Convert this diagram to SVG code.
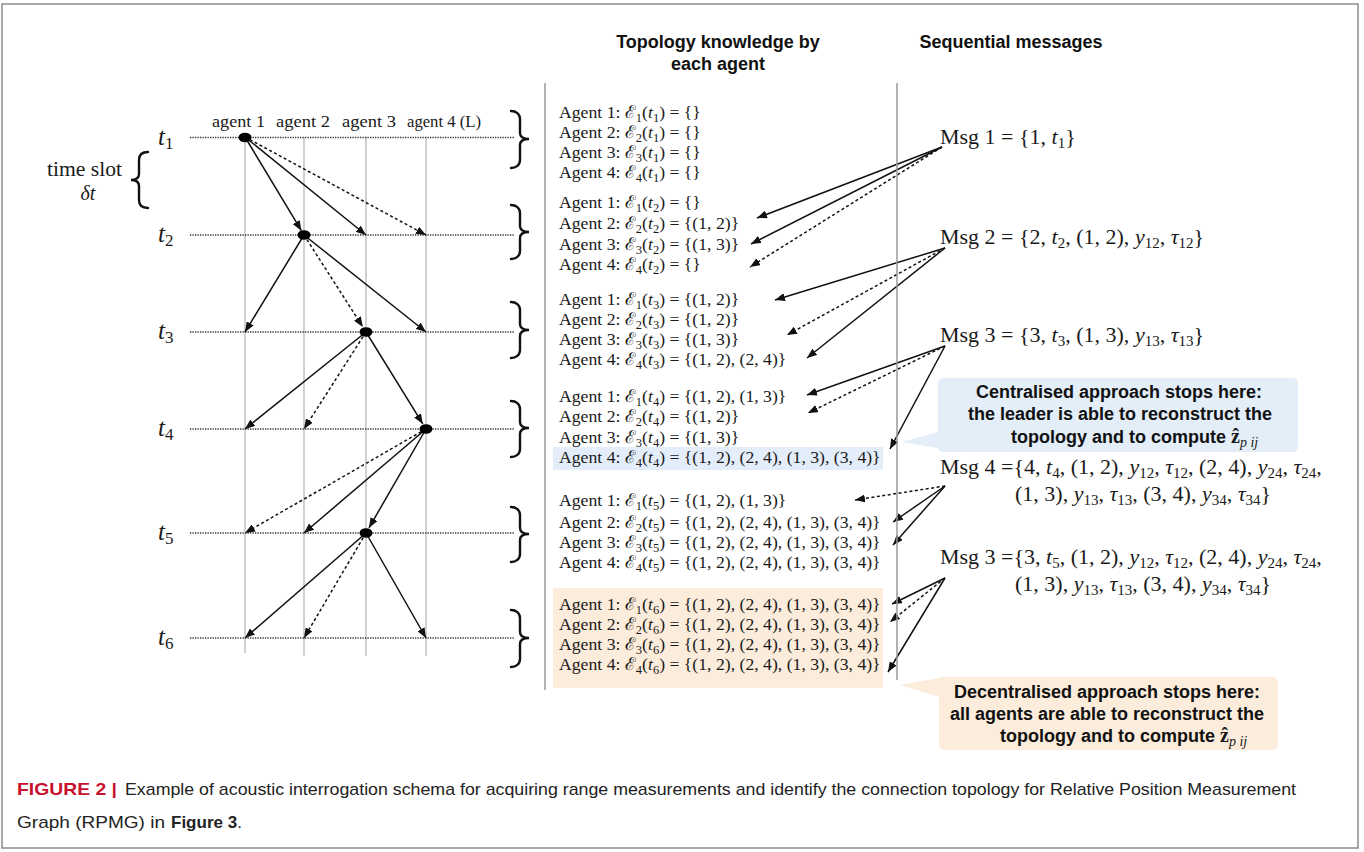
<svg xmlns="http://www.w3.org/2000/svg" width="1364" height="852" viewBox="0 0 1364 852">
<defs>
<marker id="ah" viewBox="0 0 10 8" refX="10" refY="4" markerWidth="10" markerHeight="8" markerUnits="userSpaceOnUse" orient="auto"><path d="M0,0 L10,4 L0,8 z" fill="#111"/></marker>
<style>
.frame{fill:none;stroke:#8a8a8a;stroke-width:1.5}
.vl{stroke:#b8b8b8;stroke-width:1.3}
.col{stroke:#999;stroke-width:1.5}
.hl{stroke:#333;stroke-width:1.3;stroke-dasharray:1.3 1.2}
.ar{stroke:#111;stroke-width:1.5;fill:none;marker-end:url(#ah)}
.dt{stroke-dasharray:3 2.5}
.br{fill:none;stroke:#111;stroke-width:2.4;stroke-linecap:round}
.nd{fill:#000}
.s{font-family:"Liberation Serif","DejaVu Serif",serif;fill:#1a1a1a}
.lbl{font-size:17px}
.ts{font-size:20px}
.tl{font-size:25px;font-style:italic}
.tls{font-size:17px;font-style:normal}
.a{font-size:17.7px}
.sb{font-size:12.5px}
.it{font-style:italic}
.m{font-size:22px}
.ms{font-size:15px}
.h{font-family:"Liberation Sans",Arial,sans-serif;font-weight:bold;font-size:18px;fill:#111}
.c{font-family:"Liberation Sans",Arial,sans-serif;font-weight:bold;font-size:18px;fill:#111}
.cap{font-family:"Liberation Sans",Arial,sans-serif;font-size:17px;fill:#222}
.fig{font-family:"Liberation Sans",Arial,sans-serif;font-size:17px;font-weight:bold;fill:#c8102e}
</style>
</defs>
<rect class="frame" x="2" y="4" width="1356" height="844"/>

<g id="timeline">
<line class="vl" x1="245" y1="137" x2="245" y2="653"/>
<line class="vl" x1="304" y1="137" x2="304" y2="656"/>
<line class="vl" x1="366" y1="137" x2="366" y2="656"/>
<line class="vl" x1="426" y1="137" x2="426" y2="656"/>
<line class="hl" x1="190" y1="137.5" x2="515" y2="137.5"/>
<line class="hl" x1="190" y1="235" x2="515" y2="235"/>
<line class="hl" x1="190" y1="332" x2="515" y2="332"/>
<line class="hl" x1="190" y1="429" x2="515" y2="429"/>
<line class="hl" x1="190" y1="533" x2="515" y2="533"/>
<line class="hl" x1="190" y1="638" x2="515" y2="638"/>
<text class="s lbl" x="212" y="127" textLength="53" lengthAdjust="spacingAndGlyphs">agent 1</text>
<text class="s lbl" x="276" y="127" textLength="54" lengthAdjust="spacingAndGlyphs">agent 2</text>
<text class="s lbl" x="342" y="127" textLength="54" lengthAdjust="spacingAndGlyphs">agent 3</text>
<text class="s lbl" x="407" y="127" textLength="74" lengthAdjust="spacingAndGlyphs">agent 4 (L)</text>
<text class="s tl" x="158" y="145">t<tspan class="tls" dy="4">1</tspan></text>
<text class="s tl" x="158" y="242">t<tspan class="tls" dy="4">2</tspan></text>
<text class="s tl" x="158" y="339">t<tspan class="tls" dy="4">3</tspan></text>
<text class="s tl" x="158" y="436">t<tspan class="tls" dy="4">4</tspan></text>
<text class="s tl" x="158" y="540">t<tspan class="tls" dy="4">5</tspan></text>
<text class="s tl" x="158" y="645">t<tspan class="tls" dy="4">6</tspan></text>
<text class="s ts" x="47" y="176" textLength="75" lengthAdjust="spacingAndGlyphs">time slot</text>
<text class="s ts it" x="88" y="200" text-anchor="middle">δt</text>
<path class="br" d="M148,152 C142,152 139,155 139,160 L139,174 C139,178 136,180 131,180 C136,180 139,182 139,186 L139,200 C139,205 142,208 148,208"/>
<path class="br" d="M511,111 C516,111 520,114 520,119 L520,133 C520,137 523,139 529,139 C523,139 520,141 520,145 L520,160 C520,165 516,168 511,168"/>
<path class="br" d="M511,205 C516,205 520,208 520,213 L520,226 C520,230 523,232 529,232 C523,232 520,234 520,238 L520,251 C520,256 516,259 511,259"/>
<path class="br" d="M511,302 C516,302 520,305 520,310 L520,324 C520,328 523,330 529,330 C523,330 520,332 520,336 L520,350 C520,355 516,358 511,358"/>
<path class="br" d="M511,401 C516,401 520,404 520,409 L520,422 C520,426 523,428 529,428 C523,428 520,430 520,434 L520,449 C520,454 516,457 511,457"/>
<path class="br" d="M511,507 C516,507 520,510 520,515 L520,528 C520,532 523,534 529,534 C523,534 520,536 520,540 L520,554 C520,559 516,562 511,562"/>
<path class="br" d="M511,610 C516,610 520,613 520,618 L520,632 C520,636 523,638 529,638 C523,638 520,640 520,644 L520,659 C520,664 516,667 511,667"/>
</g>

<g id="connectors">
<line class="ar" x1="245" y1="137" x2="301.4" y2="230.7"/>
<line class="ar" x1="245" y1="137" x2="366" y2="235"/>
<line class="ar dt" x1="245" y1="137" x2="426" y2="235"/>
<line class="ar" x1="304" y1="235" x2="245" y2="332"/>
<line class="ar dt" x1="304" y1="235" x2="362.8" y2="326.9"/>
<line class="ar" x1="304" y1="235" x2="426" y2="332"/>
<line class="ar" x1="366" y1="332" x2="245" y2="429"/>
<line class="ar dt" x1="366" y1="332" x2="304" y2="429"/>
<line class="ar" x1="366" y1="332" x2="422.8" y2="423.9"/>
<line class="ar dt" x1="426" y1="429" x2="245" y2="533"/>
<line class="ar" x1="426" y1="429" x2="304" y2="533"/>
<line class="ar" x1="426" y1="429" x2="369" y2="527.8"/>
<line class="ar" x1="366" y1="533" x2="245" y2="638"/>
<line class="ar dt" x1="366" y1="533" x2="304" y2="638"/>
<line class="ar" x1="366" y1="533" x2="426" y2="638"/>

<line class="ar" x1="942" y1="147" x2="757" y2="218"/>
<line class="ar" x1="942" y1="147" x2="751" y2="244"/>
<line class="ar dt" x1="942" y1="147" x2="750" y2="267"/>
<line class="ar" x1="945" y1="248" x2="775" y2="300"/>
<line class="ar dt" x1="945" y1="248" x2="787" y2="335"/>
<line class="ar" x1="945" y1="248" x2="807" y2="358"/>
<line class="ar" x1="945" y1="346" x2="807" y2="395"/>
<line class="ar dt" x1="945" y1="346" x2="808" y2="413"/>
<line class="ar" x1="945" y1="346" x2="890" y2="449"/>
<line class="ar dt" x1="945" y1="486" x2="855" y2="500"/>
<line class="ar" x1="945" y1="486" x2="893" y2="522"/>
<line class="ar" x1="945" y1="486" x2="893" y2="545"/>
<line class="ar" x1="945" y1="578" x2="892" y2="604"/>
<line class="ar dt" x1="945" y1="578" x2="890" y2="622"/>
<line class="ar" x1="945" y1="578" x2="888" y2="672"/>
</g>

<g id="nodes">
<ellipse id="n1" class="nd" cx="245" cy="137.5" rx="6.5" ry="4.8"/>
<ellipse id="n2" class="nd" cx="304" cy="235" rx="6.5" ry="4.8"/>
<ellipse id="n3" class="nd" cx="366" cy="332" rx="6.5" ry="4.8"/>
<ellipse id="n4" class="nd" cx="426" cy="429" rx="6.5" ry="4.8"/>
<ellipse id="n5" class="nd" cx="366" cy="533" rx="6.5" ry="4.8"/>
</g>

<g id="topology">
<text class="h" x="718" y="48" text-anchor="middle">Topology knowledge by</text>
<text class="h" x="718" y="70" text-anchor="middle">each agent</text>
<line class="col" x1="545" y1="83" x2="545" y2="690"/>
<rect x="553" y="447" width="330" height="23" fill="#e4eefa"/>
<rect x="553" y="588" width="330" height="100" fill="#fcecdb"/>
<g class="s a">
<text x="559" y="118">Agent 1: ℰ<tspan class="sb" dy="4">1</tspan><tspan dy="-4">(</tspan><tspan class="it">t</tspan><tspan class="sb" dy="4">1</tspan><tspan dy="-4">) = {}</tspan></text>
<text x="559" y="138">Agent 2: ℰ<tspan class="sb" dy="4">2</tspan><tspan dy="-4">(</tspan><tspan class="it">t</tspan><tspan class="sb" dy="4">1</tspan><tspan dy="-4">) = {}</tspan></text>
<text x="559" y="158">Agent 3: ℰ<tspan class="sb" dy="4">3</tspan><tspan dy="-4">(</tspan><tspan class="it">t</tspan><tspan class="sb" dy="4">1</tspan><tspan dy="-4">) = {}</tspan></text>
<text x="559" y="178">Agent 4: ℰ<tspan class="sb" dy="4">4</tspan><tspan dy="-4">(</tspan><tspan class="it">t</tspan><tspan class="sb" dy="4">1</tspan><tspan dy="-4">) = {}</tspan></text>

<text x="559" y="208">Agent 1: ℰ<tspan class="sb" dy="4">1</tspan><tspan dy="-4">(</tspan><tspan class="it">t</tspan><tspan class="sb" dy="4">2</tspan><tspan dy="-4">) = {}</tspan></text>
<text x="559" y="229">Agent 2: ℰ<tspan class="sb" dy="4">2</tspan><tspan dy="-4">(</tspan><tspan class="it">t</tspan><tspan class="sb" dy="4">2</tspan><tspan dy="-4">) = {(1, 2)}</tspan></text>
<text x="559" y="250">Agent 3: ℰ<tspan class="sb" dy="4">3</tspan><tspan dy="-4">(</tspan><tspan class="it">t</tspan><tspan class="sb" dy="4">2</tspan><tspan dy="-4">) = {(1, 3)}</tspan></text>
<text x="559" y="270">Agent 4: ℰ<tspan class="sb" dy="4">4</tspan><tspan dy="-4">(</tspan><tspan class="it">t</tspan><tspan class="sb" dy="4">2</tspan><tspan dy="-4">) = {}</tspan></text>

<text x="559" y="305">Agent 1: ℰ<tspan class="sb" dy="4">1</tspan><tspan dy="-4">(</tspan><tspan class="it">t</tspan><tspan class="sb" dy="4">3</tspan><tspan dy="-4">) = {(1, 2)}</tspan></text>
<text x="559" y="325">Agent 2: ℰ<tspan class="sb" dy="4">2</tspan><tspan dy="-4">(</tspan><tspan class="it">t</tspan><tspan class="sb" dy="4">3</tspan><tspan dy="-4">) = {(1, 2)}</tspan></text>
<text x="559" y="345">Agent 3: ℰ<tspan class="sb" dy="4">3</tspan><tspan dy="-4">(</tspan><tspan class="it">t</tspan><tspan class="sb" dy="4">3</tspan><tspan dy="-4">) = {(1, 3)}</tspan></text>
<text x="559" y="365">Agent 4: ℰ<tspan class="sb" dy="4">4</tspan><tspan dy="-4">(</tspan><tspan class="it">t</tspan><tspan class="sb" dy="4">3</tspan><tspan dy="-4">) = {(1, 2), (2, 4)}</tspan></text>

<text x="559" y="402">Agent 1: ℰ<tspan class="sb" dy="4">1</tspan><tspan dy="-4">(</tspan><tspan class="it">t</tspan><tspan class="sb" dy="4">4</tspan><tspan dy="-4">) = {(1, 2), (1, 3)}</tspan></text>
<text x="559" y="422">Agent 2: ℰ<tspan class="sb" dy="4">2</tspan><tspan dy="-4">(</tspan><tspan class="it">t</tspan><tspan class="sb" dy="4">4</tspan><tspan dy="-4">) = {(1, 2)}</tspan></text>
<text x="559" y="443">Agent 3: ℰ<tspan class="sb" dy="4">3</tspan><tspan dy="-4">(</tspan><tspan class="it">t</tspan><tspan class="sb" dy="4">4</tspan><tspan dy="-4">) = {(1, 3)}</tspan></text>
<text x="559" y="463">Agent 4: ℰ<tspan class="sb" dy="4">4</tspan><tspan dy="-4">(</tspan><tspan class="it">t</tspan><tspan class="sb" dy="4">4</tspan><tspan dy="-4">) = {(1, 2), (2, 4), (1, 3), (3, 4)}</tspan></text>

<text x="559" y="506">Agent 1:  ℰ<tspan class="sb" dy="4">1</tspan><tspan dy="-4">(</tspan><tspan class="it">t</tspan><tspan class="sb" dy="4">5</tspan><tspan dy="-4">) = {(1, 2), (1, 3)}</tspan></text>
<text x="559" y="528">Agent 2:  ℰ<tspan class="sb" dy="4">2</tspan><tspan dy="-4">(</tspan><tspan class="it">t</tspan><tspan class="sb" dy="4">5</tspan><tspan dy="-4">) = {(1, 2), (2, 4), (1, 3), (3, 4)}</tspan></text>
<text x="559" y="548">Agent 3:  ℰ<tspan class="sb" dy="4">3</tspan><tspan dy="-4">(</tspan><tspan class="it">t</tspan><tspan class="sb" dy="4">5</tspan><tspan dy="-4">) = {(1, 2), (2, 4), (1, 3), (3, 4)}</tspan></text>
<text x="559" y="568">Agent 4:  ℰ<tspan class="sb" dy="4">4</tspan><tspan dy="-4">(</tspan><tspan class="it">t</tspan><tspan class="sb" dy="4">5</tspan><tspan dy="-4">) = {(1, 2), (2, 4), (1, 3), (3, 4)}</tspan></text>

<text x="559" y="610">Agent 1:  ℰ<tspan class="sb" dy="4">1</tspan><tspan dy="-4">(</tspan><tspan class="it">t</tspan><tspan class="sb" dy="4">6</tspan><tspan dy="-4">) = {(1, 2), (2, 4), (1, 3), (3, 4)}</tspan></text>
<text x="559" y="630">Agent 2:  ℰ<tspan class="sb" dy="4">2</tspan><tspan dy="-4">(</tspan><tspan class="it">t</tspan><tspan class="sb" dy="4">6</tspan><tspan dy="-4">) = {(1, 2), (2, 4), (1, 3), (3, 4)}</tspan></text>
<text x="559" y="650">Agent 3:  ℰ<tspan class="sb" dy="4">3</tspan><tspan dy="-4">(</tspan><tspan class="it">t</tspan><tspan class="sb" dy="4">6</tspan><tspan dy="-4">) = {(1, 2), (2, 4), (1, 3), (3, 4)}</tspan></text>
<text x="559" y="670">Agent 4:  ℰ<tspan class="sb" dy="4">4</tspan><tspan dy="-4">(</tspan><tspan class="it">t</tspan><tspan class="sb" dy="4">6</tspan><tspan dy="-4">) = {(1, 2), (2, 4), (1, 3), (3, 4)}</tspan></text>
</g>
</g>

<g id="messages">
<text class="h" x="1011" y="48" text-anchor="middle">Sequential messages</text>
<line class="col" x1="897" y1="83" x2="897" y2="680"/>
<g class="s m">
<text x="940" y="144">Msg 1 = {1, <tspan class="it">t</tspan><tspan class="ms" dy="4">1</tspan><tspan dy="-4">}</tspan></text>
<text x="940" y="244">Msg 2 = {2, <tspan class="it">t</tspan><tspan class="ms" dy="4">2</tspan><tspan dy="-4">, (1, 2), </tspan><tspan class="it">y</tspan><tspan class="ms" dy="4">12</tspan><tspan dy="-4">, </tspan><tspan class="it">τ</tspan><tspan class="ms" dy="4">12</tspan><tspan dy="-4">}</tspan></text>
<text x="940" y="342">Msg 3 = {3, <tspan class="it">t</tspan><tspan class="ms" dy="4">3</tspan><tspan dy="-4">, (1, 3), </tspan><tspan class="it">y</tspan><tspan class="ms" dy="4">13</tspan><tspan dy="-4">, </tspan><tspan class="it">τ</tspan><tspan class="ms" dy="4">13</tspan><tspan dy="-4">}</tspan></text>
<text x="940" y="474">Msg 4 ={4, <tspan class="it">t</tspan><tspan class="ms" dy="4">4</tspan><tspan dy="-4">, (1, 2), </tspan><tspan class="it">y</tspan><tspan class="ms" dy="4">12</tspan><tspan dy="-4">, </tspan><tspan class="it">τ</tspan><tspan class="ms" dy="4">12</tspan><tspan dy="-4">, (2, 4), </tspan><tspan class="it">y</tspan><tspan class="ms" dy="4">24</tspan><tspan dy="-4">, </tspan><tspan class="it">τ</tspan><tspan class="ms" dy="4">24</tspan><tspan dy="-4">,</tspan></text>
<text x="1015" y="501">(1, 3), <tspan class="it">y</tspan><tspan class="ms" dy="4">13</tspan><tspan dy="-4">, </tspan><tspan class="it">τ</tspan><tspan class="ms" dy="4">13</tspan><tspan dy="-4">, (3, 4), </tspan><tspan class="it">y</tspan><tspan class="ms" dy="4">34</tspan><tspan dy="-4">, </tspan><tspan class="it">τ</tspan><tspan class="ms" dy="4">34</tspan><tspan dy="-4">}</tspan></text>
<text x="940" y="564">Msg 3 ={3, <tspan class="it">t</tspan><tspan class="ms" dy="4">5</tspan><tspan dy="-4">, (1, 2), </tspan><tspan class="it">y</tspan><tspan class="ms" dy="4">12</tspan><tspan dy="-4">, </tspan><tspan class="it">τ</tspan><tspan class="ms" dy="4">12</tspan><tspan dy="-4">, (2, 4), </tspan><tspan class="it">y</tspan><tspan class="ms" dy="4">24</tspan><tspan dy="-4">, </tspan><tspan class="it">τ</tspan><tspan class="ms" dy="4">24</tspan><tspan dy="-4">,</tspan></text>
<text x="1015" y="591">(1, 3), <tspan class="it">y</tspan><tspan class="ms" dy="4">13</tspan><tspan dy="-4">, </tspan><tspan class="it">τ</tspan><tspan class="ms" dy="4">13</tspan><tspan dy="-4">, (3, 4), </tspan><tspan class="it">y</tspan><tspan class="ms" dy="4">34</tspan><tspan dy="-4">, </tspan><tspan class="it">τ</tspan><tspan class="ms" dy="4">34</tspan><tspan dy="-4">}</tspan></text>
</g>
</g>

<g id="callout-centralised">
<path d="M944,378 H1292 Q1298,378 1298,384 V446 Q1298,452 1292,452 H944 Q938,452 938,446 V448 L902,442 L938,432 V384 Q938,378 944,378 Z" fill="#e3eef9"/>
<text class="c" x="1119" y="398" text-anchor="middle">Centralised approach stops here:</text>
<text class="c" x="1120" y="420" text-anchor="middle">the leader is able to reconstruct the</text>
<text class="c" x="1011" y="443">topology and to compute <tspan class="s" font-weight="bold" font-size="20px">ẑ</tspan><tspan class="s it" font-weight="normal" font-size="14px" dy="4">p ij</tspan></text>
</g>

<g id="callout-decentralised">
<path d="M945,677 H1272 Q1278,677 1278,683 V744 Q1278,750 1272,750 H945 Q939,750 939,744 V697 L900,685 L939,678 Q940,677 945,677 Z" fill="#fcecdb"/>
<text class="c" x="1107" y="698" text-anchor="middle">Decentralised approach stops here:</text>
<text class="c" x="1107" y="720" text-anchor="middle">all agents are able to reconstruct the</text>
<text class="c" x="1000" y="742">topology and to compute <tspan class="s" font-weight="bold" font-size="20px">ẑ</tspan><tspan class="s it" font-weight="normal" font-size="14px" dy="4">p ij</tspan></text>
</g>

<g id="caption">
<text class="fig" x="17" y="795" textLength="100" lengthAdjust="spacingAndGlyphs">FIGURE 2 |</text>
<text class="cap" x="125" y="795" textLength="1171" lengthAdjust="spacingAndGlyphs">Example of acoustic interrogation schema for acquiring range measurements and identify the connection topology for Relative Position Measurement</text>
<text class="cap" x="17" y="828" textLength="148" lengthAdjust="spacingAndGlyphs">Graph (RPMG) in</text>
<text class="cap" x="171" y="828"><tspan font-weight="bold">Figure 3</tspan>.</text>
</g>
</svg>
